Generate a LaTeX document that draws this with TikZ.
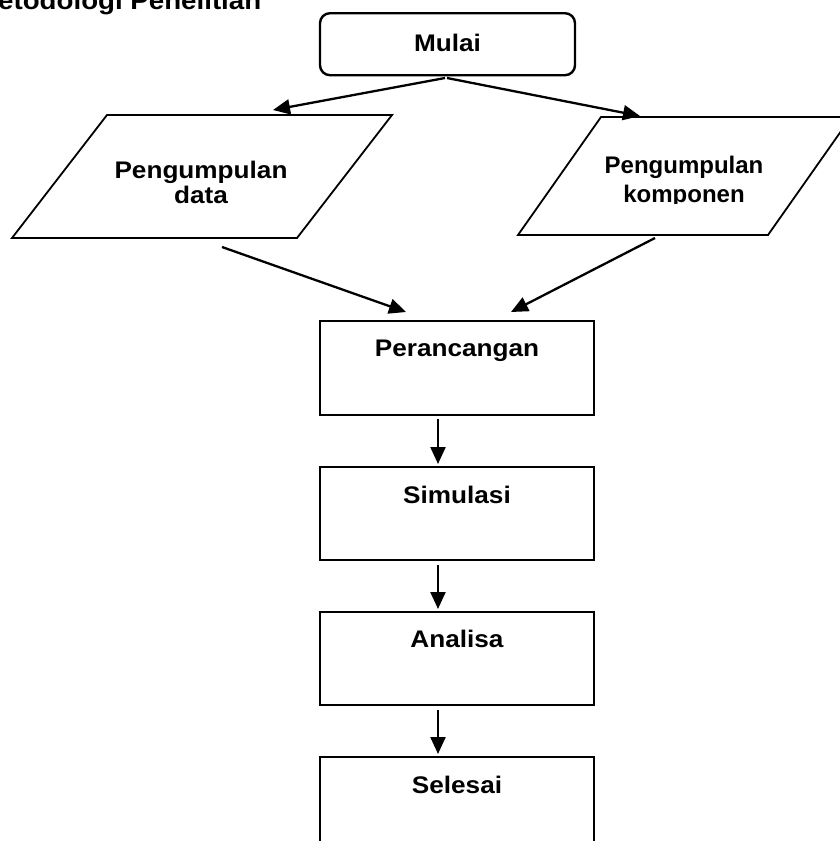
\documentclass[tikz,border=0pt]{standalone}
\usepackage{fontspec}
\setmainfont{Liberation Sans}[FakeStretch=1.09]
\newfontfamily\plainsans{Liberation Sans}
\usetikzlibrary{arrows.meta,calc}
\begin{document}
\begin{tikzpicture}[x=1pt,y=-1pt,
  box/.style={draw, line width=2.4pt, minimum width=274pt, inner sep=0pt,
    font=\fontsize{24}{29}\selectfont\bfseries, anchor=north},
  para/.style={draw, line width=1.8pt, line join=miter},
  lbl/.style={inner sep=0pt, anchor=base, font=\fontsize{24}{25}\selectfont\bfseries},
  lblr/.style={inner sep=0pt, anchor=base, font=\plainsans\fontsize{24}{29}\selectfont\bfseries},
  arr/.style={line width=2.3pt, -{Triangle[length=17pt,width=15pt]}}]
\useasboundingbox (0,0) rectangle (839,841);
\fill[white] (0,0) rectangle (839,841);

% title (cropped at the top)
\node[anchor=base west, inner sep=0pt, font=\fontsize{25.4}{30}\selectfont\bfseries] (title) at (-2,9.5) {etodologi Penelitian};

% start
\node[box, minimum width=255pt, rounded corners=10pt, text height=38pt, text depth=24pt] (mulai) at (447.5,12) {Mulai};

% left parallelogram
\coordinate (pdA) at (107,115);
\coordinate (pdB) at (392,115);
\coordinate (pdC) at (297,238);
\coordinate (pdD) at (12,238);
\draw[para] (pdA) -- (pdB) -- (pdC) -- (pdD) -- cycle;
\node[lbl] (pd1) at (201,178) {Pengumpulan};
\node[lbl] (pd2) at (201,203) {data};

% right parallelogram
\coordinate (pkA) at (601,117);
\coordinate (pkB) at (851,117);
\coordinate (pkC) at (768,235);
\coordinate (pkD) at (518,235);
\draw[para] (pkA) -- (pkB) -- (pkC) -- (pkD) -- cycle;
\begin{scope}
  \clip (500,120) rectangle (850,203.5);
  \node[lblr] (pk1) at (684,173) {Pengumpulan};
  \node[lblr] (pk2) at (684,202) {komponen};
\end{scope}

% process boxes
\node[box, text height=35pt, text depth=59pt] (per) at (457,320) {Perancangan};
\node[box, text height=36pt, text depth=57pt] (sim) at (457,466) {Simulasi};
\node[box, text height=35pt, text depth=58pt] (ana) at (457,611) {Analisa};
\node[box, text height=36pt, text depth=64pt] (sel) at (457,756) {Selesai};

% connector end points
\coordinate (mOutL) at (445,78);
\coordinate (mOutR) at (447,78);
\coordinate (pdIn) at (273,110);
\coordinate (pkIn) at (640,116);
\coordinate (pdOut) at (222,247);
\coordinate (pkOut) at (655,238);
\coordinate (perInL) at (406,312);
\coordinate (perInR) at (511,312);

\draw[arr] (mOutL) -- (pdIn);
\draw[arr] (mOutR) -- (pkIn);
\draw[arr] (pdOut) -- (perInL);
\draw[arr] (pkOut) -- (perInR);

\draw[arr] ([xshift=-19pt,yshift=-3pt]per.south) -- ([xshift=-19pt,yshift=2pt]sim.north);
\draw[arr] ([xshift=-19pt,yshift=-4pt]sim.south) -- ([xshift=-19pt,yshift=2pt]ana.north);
\draw[arr] ([xshift=-19pt,yshift=-4pt]ana.south) -- ([xshift=-19pt,yshift=2pt]sel.north);
\end{tikzpicture}
\end{document}
